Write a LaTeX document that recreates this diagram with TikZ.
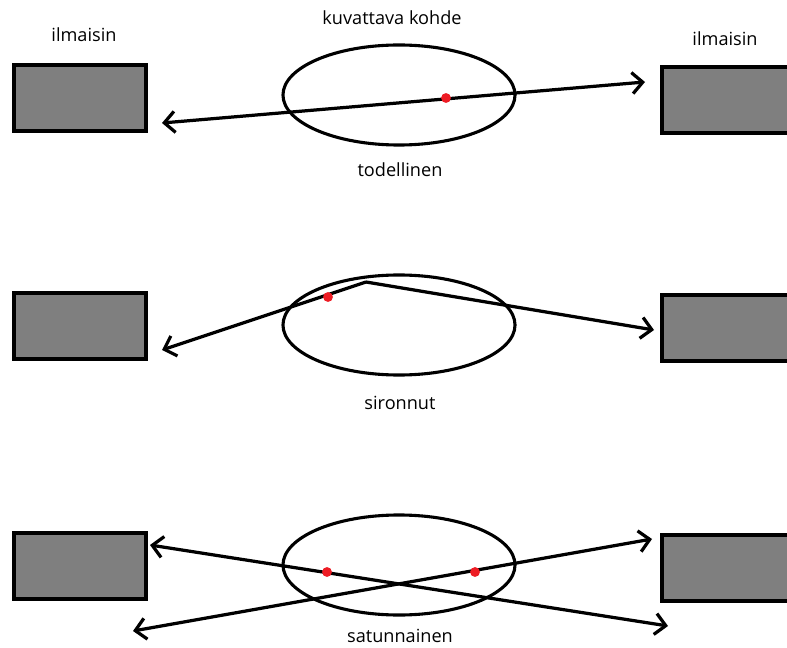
\documentclass[tikz,border=0pt]{standalone}
\usepackage{fontspec}
\setmainfont{Open Sans}
\usetikzlibrary{shapes.geometric,arrows.meta}
\definecolor{detgray}{HTML}{7F7F7F}
\definecolor{hitred}{HTML}{ED1C24}

\begin{document}
\begin{tikzpicture}[x=0.025cm, y=-0.025cm,
  detector/.style={draw=black, fill=detgray, line width=2.4pt, minimum width=3.3cm, minimum height=1.65cm, inner sep=0pt},
  target/.style={draw=black, ellipse, line width=2.2pt, minimum width=5.8cm, minimum height=2.5cm, inner sep=0pt},
  ray/.style={line width=2.3pt, line join=round},
  hit/.style={circle, fill=hitred, minimum size=7pt, inner sep=0pt},
  lbl/.style={font=\fontsize{12.9}{15}\selectfont}]
  \useasboundingbox (0,0) rectangle (787,648);
  \clip (0,0) rectangle (787,648);
  \tikzset{>={Straight Barb[length=7.5pt, width=15pt]}}

  % Detectors, one pair per row
  \foreach \i/\yl/\yr in {1/98/100, 2/326/328, 3/566/568} {
    \node[detector] (detL\i) at (80,\yl) {};
    \node[detector] (detR\i) at (728,\yr) {};
  }
  \node[lbl] (lblDetL) at (84,35) {ilmaisin};
  \node[lbl] (lblDetR) at (725,39) {ilmaisin};

  % Row 1: true coincidence
  \node[target] (obj1) at (399,95) {};
  \node[lbl] (lblObj) at (392,18) {kuvattava kohde};
  \node[lbl] (lblTrue) at (400,170) {todellinen};
  \coordinate (a1) at (162,123);
  \coordinate (b1) at (645,82);
  \draw[ray, <->] (a1) -- (b1);
  \node[hit] (hit1) at (446,98) {};

  % Row 2: scattered
  \node[target] (obj2) at (399,325) {};
  \node[lbl] (lblScat) at (400,403) {sironnut};
  \coordinate (peak2) at (366,282);
  \coordinate (a2) at (162,350);
  \coordinate (b2) at (654,330);
  \draw[ray, ->] (peak2) -- (a2);
  \draw[ray, ->] (peak2) -- (b2);
  \node[hit] (hit2) at (328,297) {};

  % Row 3: random
  \node[target] (obj3) at (399,565) {};
  \node[lbl] (lblRand) at (400,636) {satunnainen};
  \coordinate (a3) at (150,545);
  \coordinate (b3) at (668,626);
  \coordinate (c3) at (133,631);
  \coordinate (d3) at (652,539);
  \draw[ray, <->] (a3) -- (b3);
  \draw[ray, <->] (c3) -- (d3);
  \node[hit] (hit3a) at (327,572) {};
  \node[hit] (hit3b) at (475,572) {};
\end{tikzpicture}
\end{document}
